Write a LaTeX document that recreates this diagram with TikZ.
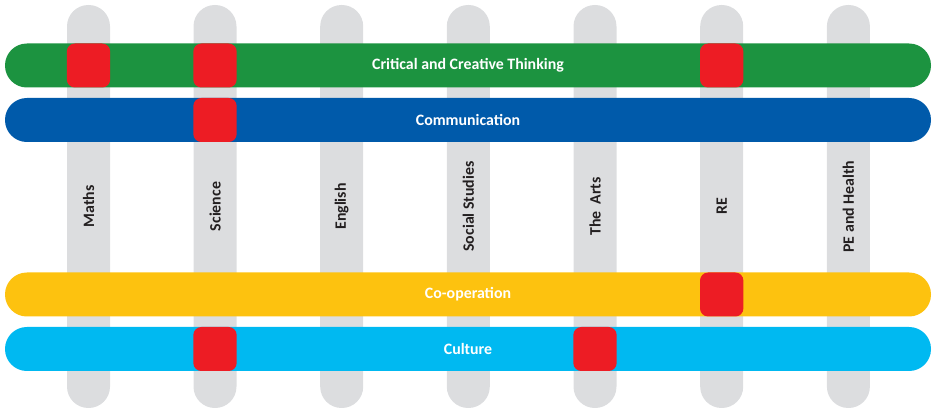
\documentclass[tikz,border=0pt]{standalone}
\usepackage{fontspec}
\setmainfont{Carlito}
\usepackage{tikz}
\definecolor{subjgrey}{HTML}{DCDDDF}
\definecolor{labeldark}{HTML}{231F20}
\definecolor{cctgreen}{HTML}{1C9340}
\definecolor{commblue}{HTML}{005AAA}
\definecolor{coopyellow}{HTML}{FDC20F}
\definecolor{cultcyan}{HTML}{00B9F1}
\definecolor{linkred}{HTML}{ED1C24}

\begin{document}
\begin{tikzpicture}[x=0.75pt, y=-0.75pt,
    subject/.style={fill=subjgrey, rounded corners=16pt, shape=rectangle, rotate=90,
        minimum width=302.25pt, minimum height=32.25pt, inner sep=0pt,
        text=labeldark, font=\bfseries\fontsize{11.9}{14}\selectfont},
    skill/.style={rounded corners=16.4pt, shape=rectangle,
        minimum width=694.5pt, minimum height=33pt, inner sep=0pt,
        text=white, font=\bfseries\fontsize{11.9}{14}\selectfont},
    link/.style={fill=linkred, rounded corners=6pt, shape=rectangle,
        minimum width=32.5pt, minimum height=33pt, inner sep=0pt}]
    \useasboundingbox (0,0) rectangle (932,409);
    % subjects
    \node(maths)[subject] at (88.5, 206.5) {Maths};
    \node(science)[subject] at (215, 206.5) {Science};
    \node(english)[subject] at (341.7, 206.5) {English};
    \node(social)[subject] at (468.3, 206.5) {Social Studies};
    \node(arts)[subject] at (595, 206.5) {The\ \ Arts};
    \node(re)[subject] at (721.7, 206.5) {RE};
    \node(pe)[subject] at (848.4, 206.5) {PE and Health};
    % capabilities
    \node(cct)[skill, fill=cctgreen] at (468, 65.5) {Critical and Creative Thinking};
    \node(comm)[skill, fill=commblue] at (468, 120) {Communication};
    \node(coop)[skill, fill=coopyellow] at (468, 294.5) {Co-operation};
    \node(cult)[skill, fill=cultcyan] at (468, 349) {Culture};
    % links
    \node(l1)[link] at (maths |- cct) {};
    \node(l2)[link] at (science |- cct) {};
    \node(l3)[link] at (re |- cct) {};
    \node(l4)[link] at (science |- comm) {};
    \node(l5)[link] at (re |- coop) {};
    \node(l6)[link] at (science |- cult) {};
    \node(l7)[link] at (arts |- cult) {};
\end{tikzpicture}
\end{document}
